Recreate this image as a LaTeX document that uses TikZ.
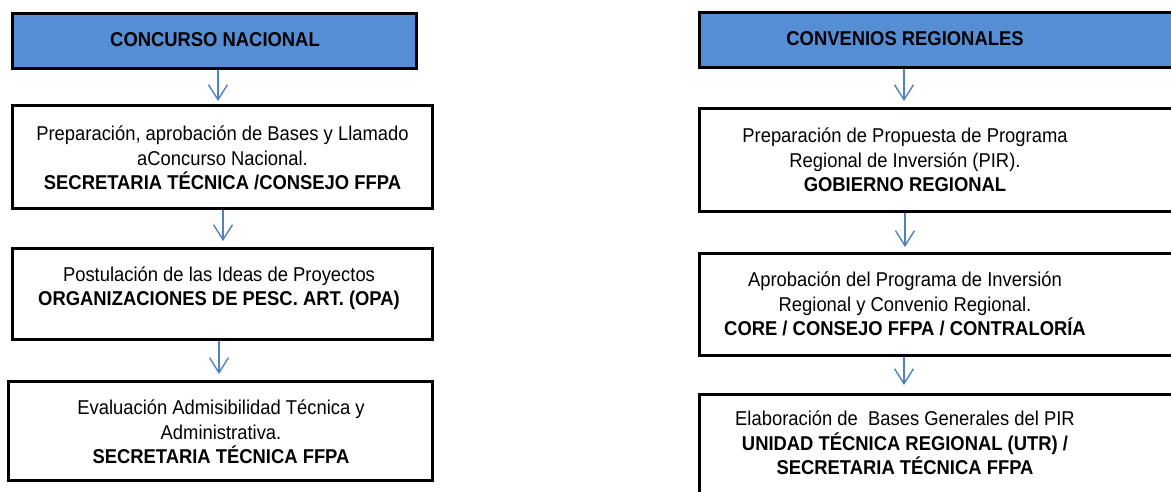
\documentclass[tikz,border=0pt]{standalone}
\usepackage{fontspec}
\setmainfont{Liberation Sans}[FakeStretch=0.92]
\usetikzlibrary{arrows.meta}
\definecolor{hdrblue}{HTML}{558ED5}
\definecolor{arrblue}{HTML}{4F81BD}
\begin{document}
\begin{tikzpicture}[x=1pt,y=-1pt,
  box/.style={draw=black, line width=3.3pt, rectangle, inner sep=0pt, fill=white},
  hdr/.style={box, fill=hdrblue},
  txt/.style={align=center, font=\fontsize{20}{24.3}\selectfont, inner sep=0pt},
  arr/.style={draw=arrblue, line width=1.4pt, -{Straight Barb[length=15pt,width=19pt]}, shorten >=6pt}]
\useasboundingbox (0,0) rectangle (1171,491);
\clip (0,0) rectangle (1171,491);
% left column boxes
\node[hdr, minimum width=403.7pt, minimum height=54.7pt] (L1) at (214.5,41) {};
\node[box, minimum width=419.7pt, minimum height=102.7pt] (L2) at (222.5,157) {};
\node[box, minimum width=419.7pt, minimum height=90.7pt] (L3) at (222.5,294) {};
\node[box, minimum width=423.7pt, minimum height=98.7pt] (L4) at (220.5,431) {};
% right column boxes
\node[hdr, minimum width=488.7pt, minimum height=54.7pt] (R1) at (944,40) {};
\node[box, minimum width=488.7pt, minimum height=102.7pt] (R2) at (944,160) {};
\node[box, minimum width=488.7pt, minimum height=101.7pt] (R3) at (944,304.5) {};
\node[box, minimum width=488.7pt, minimum height=98.7pt] (R4) at (944,444) {};
% texts
\node[txt] (tL1) at (215,40) {\textbf{CONCURSO NACIONAL}};
\node[txt] (tL2) at (222.5,158) {Preparación, aprobación de Bases y Llamado\\aConcurso Nacional.\\\textbf{SECRETARIA TÉCNICA /CONSEJO FFPA}};
\node[txt] (tL3) at (219,288) {Postulación de las Ideas de Proyectos\\\textbf{ORGANIZACIONES DE PESC. ART. (OPA)}};
\node[txt] (tL4) at (221,432) {Evaluación Admisibilidad Técnica y\\Administrativa.\\\textbf{SECRETARIA TÉCNICA FFPA}};
\node[txt] (tR1) at (905,39) {\textbf{CONVENIOS REGIONALES}};
\node[txt] (tR2) at (905,160) {Preparación de Propuesta de Programa\\Regional de Inversión (PIR).\\\textbf{GOBIERNO REGIONAL}};
\node[txt] (tR3) at (905,304) {Aprobación del Programa de Inversión\\Regional y Convenio Regional.\\\textbf{CORE / CONSEJO FFPA / CONTRALORÍA}};
\node[txt] (tR4) at (905,443) {Elaboración de~ Bases Generales del PIR\\\textbf{UNIDAD TÉCNICA REGIONAL (UTR) /}\\\textbf{SECRETARIA TÉCNICA FFPA}};
% arrows
\draw[arr, shorten >=3pt] (L1.south -| 218,0) -- (L2.north -| 218,0);
\draw[arr] (L2.south -| 223,0) -- (L3.north -| 223,0);
\draw[arr] (L3.south -| 219,0) -- (L4.north -| 219,0);
\draw[arr] (R1.south -| 904,0) -- (R2.north -| 904,0);
\draw[arr, shorten >=5pt] (R2.south -| 905,0) -- (R3.north -| 905,0);
\draw[arr, shorten >=8pt] (R3.south -| 904,0) -- (R4.north -| 904,0);
\end{tikzpicture}
\end{document}
